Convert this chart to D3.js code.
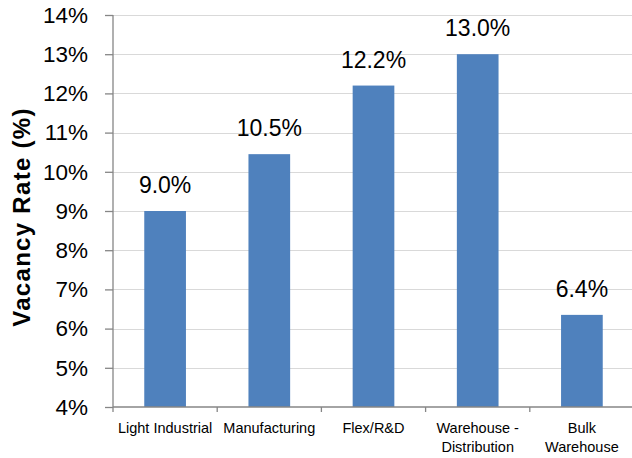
<!DOCTYPE html>
<html>
<head>
  <style>
    body { margin: 0; background: #fff; }
    svg { font-family: 'Liberation Sans', Arial, sans-serif; }
    .grid line { stroke: #d9d9d9; stroke-width: 1; }
    .bar { fill: #4f81bd; }
    .value { font-size: 23px; text-anchor: middle; fill: #000; }
    .ytick { font-size: 22.5px; text-anchor: end; fill: #000; }
    .xlabel { font-size: 14.5px; text-anchor: middle; fill: #000; }
    .axis-line { stroke: #868686; stroke-width: 1.3; }
  </style>
</head>
<body>
<script src="https://d3js.org/d3.v7.min.js"></script>
<script>
  // chart data
  const categories = ["Light Industrial", "Manufacturing", "Flex/R&D", "Warehouse - Distribution", "Bulk Warehouse"];
  const categoryLines = [["Light Industrial"], ["Manufacturing"], ["Flex/R&D"], ["Warehouse -", "Distribution"], ["Bulk", "Warehouse"]];
  const vacancy = [9.0, 10.45, 12.2, 13.0, 6.35];
  const valueLabels = ["9.0%", "10.5%", "12.2%", "13.0%", "6.4%"];
  const yTicks = [4, 5, 6, 7, 8, 9, 10, 11, 12, 13, 14];

  const width = 632, height = 458;
  const margin = { top: 15, right: -2, bottom: 51, left: 113 };

  const svg = d3.select("body").append("svg")
    .attr("width", width)
    .attr("height", height);

  const x = d3.scaleBand()
    .domain(categories)
    .range([margin.left, width - margin.right])
    .paddingInner(0.6)
    .paddingOuter(0.3);

  // same bands without padding, for the category boundary ticks
  const xEdge = d3.scaleBand()
    .domain(categories)
    .range([margin.left, width - margin.right]);

  const y = d3.scaleLinear()
    .domain([4, 14])
    .range([height - margin.bottom, margin.top]);

  // gridlines
  svg.append("g").attr("class", "grid")
    .selectAll("line")
    .data(yTicks.slice(1))
    .join("line")
    .attr("x1", margin.left)
    .attr("x2", width)
    .attr("y1", d => Math.round(y(d)) + 0.5)
    .attr("y2", d => Math.round(y(d)) + 0.5);

  // bars
  svg.selectAll(".bar")
    .data(categories)
    .join("rect")
    .attr("class", "bar")
    .attr("x", d => x(d))
    .attr("width", x.bandwidth())
    .attr("y", (d, i) => y(vacancy[i]))
    .attr("height", (d, i) => y(4) - y(vacancy[i]));

  // value labels
  svg.selectAll(".value")
    .data(categories)
    .join("text")
    .attr("class", "value")
    .attr("x", d => x(d) + x.bandwidth() / 2)
    .attr("y", (d, i) => y(vacancy[i]) - 18)
    .text((d, i) => valueLabels[i]);

  // y axis
  const yAxis = svg.append("g")
    .attr("transform", `translate(${margin.left},0)`)
    .call(d3.axisLeft(y).tickValues(yTicks).tickSize(8).tickPadding(17).tickFormat(d => d + "%"));
  yAxis.selectAll("path, line").attr("stroke", "#868686").attr("stroke-width", 1.3);
  yAxis.selectAll("text").attr("class", "ytick").attr("font-size", null).attr("font-family", null);
  yAxis.attr("font-size", null).attr("font-family", null);
  yAxis.select(".domain").attr("d", `M0,${y(14)}V${y(4)}`);

  // x axis line and boundary ticks
  svg.append("line")
    .attr("class", "axis-line")
    .attr("x1", margin.left)
    .attr("x2", width)
    .attr("y1", y(4))
    .attr("y2", y(4));

  svg.selectAll(".xtick")
    .data(categories)
    .join("line")
    .attr("class", "axis-line")
    .attr("x1", d => xEdge(d))
    .attr("x2", d => xEdge(d))
    .attr("y1", y(4))
    .attr("y2", y(4) + 5);

  // category labels
  const xl = svg.selectAll(".xlabel")
    .data(categories)
    .join("text")
    .attr("class", "xlabel")
    .attr("y", y(4) + 26);
  xl.selectAll("tspan")
    .data((d, i) => categoryLines[i].map(t => ({ t, cx: x(d) + x.bandwidth() / 2 })))
    .join("tspan")
    .attr("x", d => d.cx)
    .attr("dy", (d, i) => i === 0 ? 0 : 19)
    .text(d => d.t);

  // y axis title
  svg.append("text")
    .attr("transform", `translate(30,${(y(4) + y(14)) / 2 + 6}) rotate(-90)`)
    .attr("text-anchor", "middle")
    .attr("font-weight", "bold")
    .attr("font-size", "24px")
    .attr("letter-spacing", "1.3px")
    .text("Vacancy Rate (%)");
</script>
</body>
</html>
